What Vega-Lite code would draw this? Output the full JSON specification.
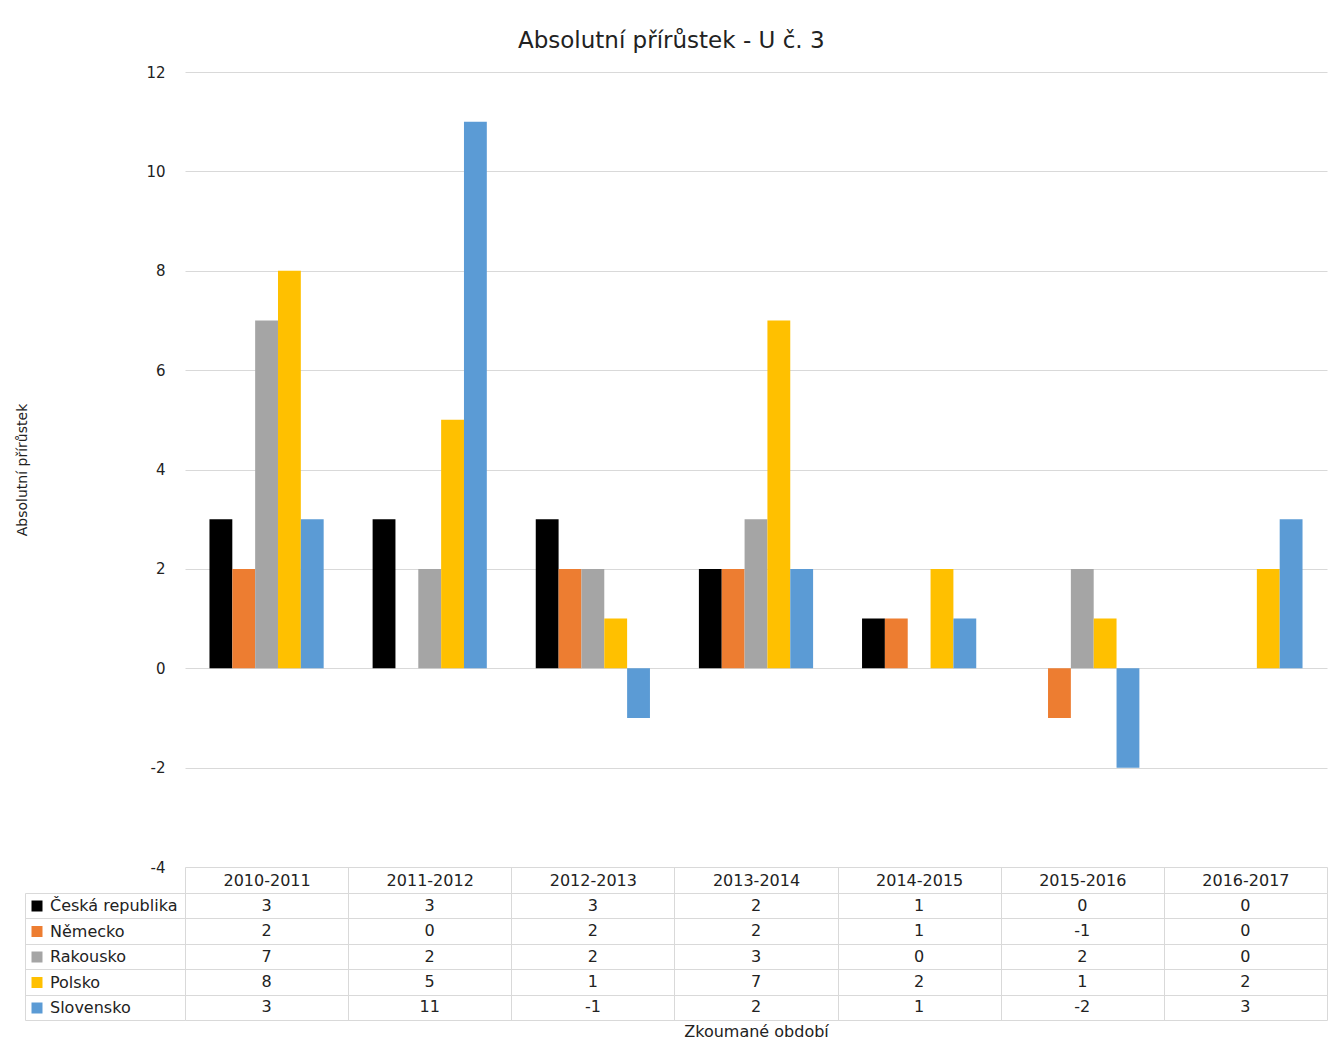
{
  "$schema": "https://vega.github.io/schema/vega-lite/v6.json",
  "background": "white",
  "autosize": {"type": "pad"},
  "padding": {"left": 15, "top": 30, "right": 0, "bottom": 0},
  "config": {
    "font": "DejaVu Sans",
    "view": {"stroke": null}
  },
  "title": {
    "text": "Absolutní přírůstek - U č. 3",
    "fontSize": 23,
    "fontWeight": "normal",
    "color": "#222222",
    "anchor": "middle",
    "offset": 12
  },
  "datasets": {
    "rows": [
      {"period": "2010-2011", "country": "Česká republika", "value": 3},
      {"period": "2010-2011", "country": "Německo", "value": 2},
      {"period": "2010-2011", "country": "Rakousko", "value": 7},
      {"period": "2010-2011", "country": "Polsko", "value": 8},
      {"period": "2010-2011", "country": "Slovensko", "value": 3},
      {"period": "2011-2012", "country": "Česká republika", "value": 3},
      {"period": "2011-2012", "country": "Německo", "value": 0},
      {"period": "2011-2012", "country": "Rakousko", "value": 2},
      {"period": "2011-2012", "country": "Polsko", "value": 5},
      {"period": "2011-2012", "country": "Slovensko", "value": 11},
      {"period": "2012-2013", "country": "Česká republika", "value": 3},
      {"period": "2012-2013", "country": "Německo", "value": 2},
      {"period": "2012-2013", "country": "Rakousko", "value": 2},
      {"period": "2012-2013", "country": "Polsko", "value": 1},
      {"period": "2012-2013", "country": "Slovensko", "value": -1},
      {"period": "2013-2014", "country": "Česká republika", "value": 2},
      {"period": "2013-2014", "country": "Německo", "value": 2},
      {"period": "2013-2014", "country": "Rakousko", "value": 3},
      {"period": "2013-2014", "country": "Polsko", "value": 7},
      {"period": "2013-2014", "country": "Slovensko", "value": 2},
      {"period": "2014-2015", "country": "Česká republika", "value": 1},
      {"period": "2014-2015", "country": "Německo", "value": 1},
      {"period": "2014-2015", "country": "Rakousko", "value": 0},
      {"period": "2014-2015", "country": "Polsko", "value": 2},
      {"period": "2014-2015", "country": "Slovensko", "value": 1},
      {"period": "2015-2016", "country": "Česká republika", "value": 0},
      {"period": "2015-2016", "country": "Německo", "value": -1},
      {"period": "2015-2016", "country": "Rakousko", "value": 2},
      {"period": "2015-2016", "country": "Polsko", "value": 1},
      {"period": "2015-2016", "country": "Slovensko", "value": -2},
      {"period": "2016-2017", "country": "Česká republika", "value": 0},
      {"period": "2016-2017", "country": "Německo", "value": 0},
      {"period": "2016-2017", "country": "Rakousko", "value": 0},
      {"period": "2016-2017", "country": "Polsko", "value": 2},
      {"period": "2016-2017", "country": "Slovensko", "value": 3}
    ]
  },
  "data": {"name": "rows"},
  "bounds": "flush",
  "spacing": 26,
  "vconcat": [
    {
      "width": 1142,
      "height": 795,
      "mark": {"type": "bar"},
      "encoding": {
        "x": {
          "field": "period",
          "type": "nominal",
          "sort": null,
          "axis": null,
          "scale": {"paddingInner": 0.3, "paddingOuter": 0.15}
        },
        "xOffset": {
          "field": "country",
          "type": "nominal",
          "sort": ["Česká republika", "Německo", "Rakousko", "Polsko", "Slovensko"],
          "scale": {"paddingInner": 0, "paddingOuter": 0}
        },
        "y": {
          "field": "value",
          "type": "quantitative",
          "scale": {"domain": [-4, 12], "nice": false},
          "axis": {
            "title": "Absolutní přírůstek",
            "values": [-4, -2, 0, 2, 4, 6, 8, 10, 12],
            "labelExpr": "replace(datum.label, '−', '-')",
            "domain": false,
            "ticks": false,
            "labelPadding": 20,
            "labelFontSize": 15,
            "labelColor": "#222222",
            "gridColor": "#d9d9d9",
            "titleFontSize": 14,
            "titleFontWeight": "normal",
            "titleColor": "#222222",
            "titleX": -170,
            "titleY": 397.5,
            "titleAngle": 270,
            "titleAlign": "center",
            "titleBaseline": "top"
          }
        },
        "color": {
          "field": "country",
          "type": "nominal",
          "scale": {
            "domain": ["Česká republika", "Německo", "Rakousko", "Polsko", "Slovensko"],
            "range": ["#000000", "#ed7d31", "#a5a5a5", "#ffc000", "#5b9bd5"]
          },
          "legend": {
            "orient": "none",
            "legendX": -156,
            "legendY": 826,
            "title": null,
            "symbolType": "square",
            "symbolSize": 121,
            "symbolStrokeWidth": 0,
            "labelFontSize": 16,
            "labelColor": "#222222",
            "labelOffset": 5,
            "labelLimit": 200,
            "rowPadding": 9.5,
            "padding": 0
          }
        }
      }
    },
    {
      "width": 1142,
      "height": 127,
      "mark": {"type": "text", "fontSize": 16, "color": "#222222"},
      "encoding": {
        "x": {
          "field": "period",
          "type": "nominal",
          "sort": null,
          "scale": {"paddingInner": 0, "paddingOuter": 0},
          "axis": {
            "orient": "top",
            "title": "Zkoumané období",
            "titleFontSize": 16,
            "titleFontWeight": "normal",
            "titleColor": "#222222",
            "titleY": 146,
            "titleBaseline": "bottom",
            "tickBand": "extent",
            "tickSize": 26,
            "tickColor": "#d9d9d9",
            "domainColor": "#d9d9d9",
            "grid": true,
            "gridColor": "#d9d9d9",
            "labelAngle": 0,
            "labelPadding": -13,
            "labelBaseline": "middle",
            "labelFontSize": 16,
            "labelColor": "#222222"
          }
        },
        "y": {
          "field": "country",
          "type": "nominal",
          "sort": ["Česká republika", "Německo", "Rakousko", "Polsko", "Slovensko"],
          "scale": {"paddingInner": 0, "paddingOuter": 0},
          "axis": {
            "orient": "left",
            "offset": 160,
            "title": null,
            "labels": false,
            "domain": true,
            "domainColor": "#d9d9d9",
            "ticks": true,
            "tickBand": "extent",
            "tickSize": -160,
            "tickColor": "#d9d9d9",
            "grid": true,
            "gridColor": "#d9d9d9"
          }
        },
        "text": {"field": "value", "type": "nominal"}
      }
    }
  ]
}
